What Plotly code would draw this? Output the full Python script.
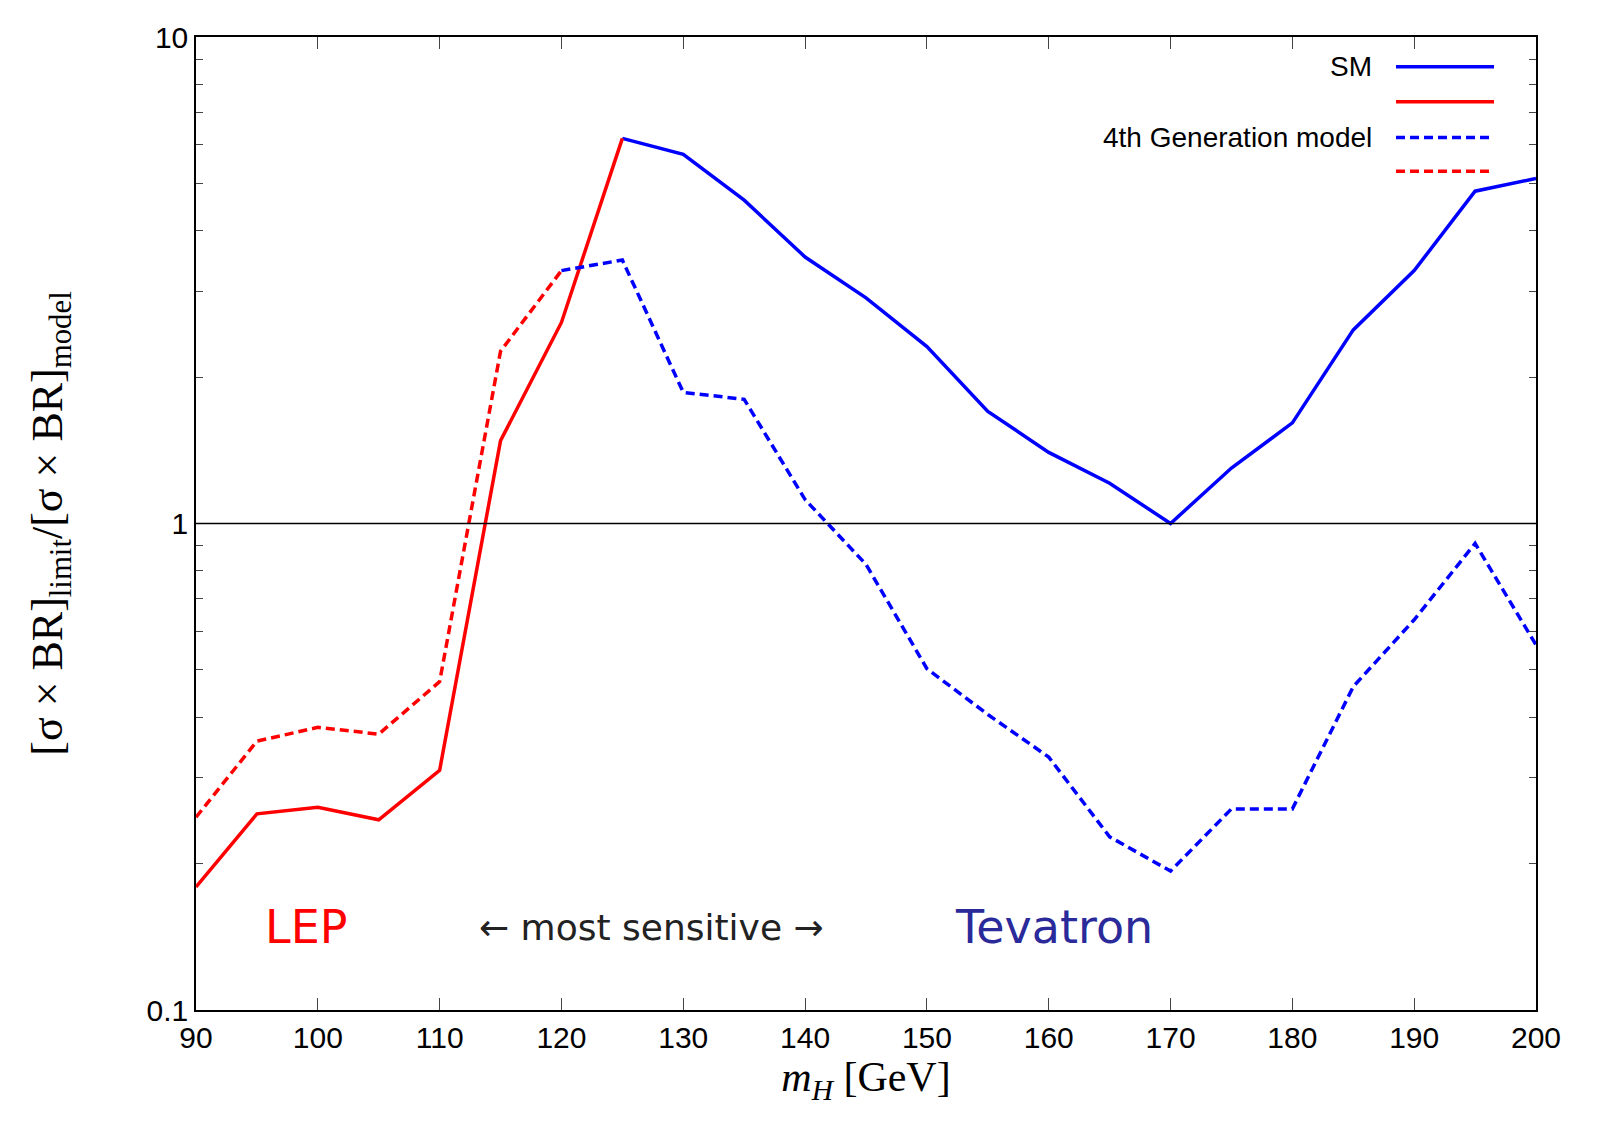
import plotly.graph_objects as go

mh_sm = [125,130,135,140,145,150,155,160,165,170,175,180,185,190,195,200]
sm_tev = [6.19,5.74,4.62,3.53,2.91,2.31,1.70,1.40,1.21,1.0,1.30,1.61,2.50,3.31,4.82,5.12]
mh_lep = [90,95,100,105,110,115,120,125]
sm_lep = [0.179,0.253,0.261,0.246,0.311,1.48,2.59,6.19]
mh_lep4 = [90,95,100,105,110,115,120]
g4_lep = [0.249,0.357,0.381,0.369,0.473,2.26,3.31]
mh_tev4 = [120,125,130,135,140,145,150,155,160,165,170,175,180,185,190,195,200]
g4_tev = [3.31,3.48,1.86,1.80,1.12,0.824,0.503,0.405,0.331,0.227,0.193,0.259,0.259,0.462,0.634,0.910,0.563]

BLUE = "#0000ff"; RED = "#ff0000"; DASH = "9px,5px"
fig = go.Figure()
fig.add_trace(go.Scatter(x=mh_sm, y=sm_tev, mode="lines", line=dict(color=BLUE, width=3.5)))
fig.add_trace(go.Scatter(x=mh_lep, y=sm_lep, mode="lines", line=dict(color=RED, width=3.5)))
fig.add_trace(go.Scatter(x=mh_tev4, y=g4_tev, mode="lines", line=dict(color=BLUE, width=3.5, dash=DASH)))
fig.add_trace(go.Scatter(x=mh_lep4, y=g4_lep, mode="lines", line=dict(color=RED, width=3.5, dash=DASH)))
fig.add_shape(type="line", xref="x", yref="y", x0=90, x1=200, y0=1, y1=1, line=dict(color="black", width=1.5))

# legend
leg = [("SM", BLUE, "solid", 54), ("", RED, "solid", 89), ("4th Generation model", BLUE, DASH, 125), ("", RED, DASH, 159)]
for txt, c, d, py in leg:
    yp = 1 - (py - 24) / (1002 - 24)
    fig.add_shape(type="line", xref="paper", yref="paper", x0=(1388-188)/1340, x1=(1486-188)/1340, y0=yp, y1=yp,
                  line=dict(color=c, width=3.5, dash=d))
    if txt:
        fig.add_annotation(xref="paper", yref="paper", x=(1366-188)/1340, y=yp, text=txt, showarrow=False,
                           xanchor="right", yanchor="middle", font=dict(size=28, color="black", family="Liberation Sans"))

ylab = -0.83
fig.add_annotation(x=99, y=ylab, text="LEP", showarrow=False, xanchor="center", yanchor="middle",
                   font=dict(size=46, color=RED, family="DejaVu Sans"))
fig.add_annotation(x=127.4, y=ylab, text="← most sensitive →", showarrow=False, xanchor="center", yanchor="middle",
                   font=dict(size=36, color="#222222", family="DejaVu Sans"))
fig.add_annotation(x=160.4, y=ylab, text="Tevatron", showarrow=False, xanchor="center", yanchor="middle",
                   font=dict(size=46, color="#2a2a9a", family="DejaVu Sans"))

fig.update_layout(
    width=1600, height=1137, plot_bgcolor="white", paper_bgcolor="white", showlegend=False,
    margin=dict(l=188, r=72, t=24, b=135),
    font=dict(family="Liberation Sans", size=30, color="black"),
)
fig.update_xaxes(range=[90, 200], tickvals=list(range(90, 201, 10)), ticks="inside", ticklen=12,
                 showline=True, linecolor="black", linewidth=1.5, mirror="ticks", showgrid=False, zeroline=False,
                 title=dict(text="<i>m</i><sub><i>H</i></sub> [GeV]", font=dict(family="Liberation Serif", size=42), standoff=8))
fig.update_yaxes(type="log", range=[-1, 1], tickvals=[0.1, 1, 10], ticktext=["0.1", "1", "10"],
                 ticks="inside", ticklen=12, showline=True, linecolor="black", linewidth=1.5, mirror="ticks",
                 showgrid=False, zeroline=False,
                 minor=dict(ticks="inside", ticklen=7, tickvals=[i*0.1 for i in range(2, 10)] + list(range(2, 10))),
                 title=dict(text="[σ × BR]<sub>limit</sub>/[σ × BR]<sub>model</sub>", font=dict(family="Liberation Serif", size=44), standoff=70))
fig.write_html("out.html")
